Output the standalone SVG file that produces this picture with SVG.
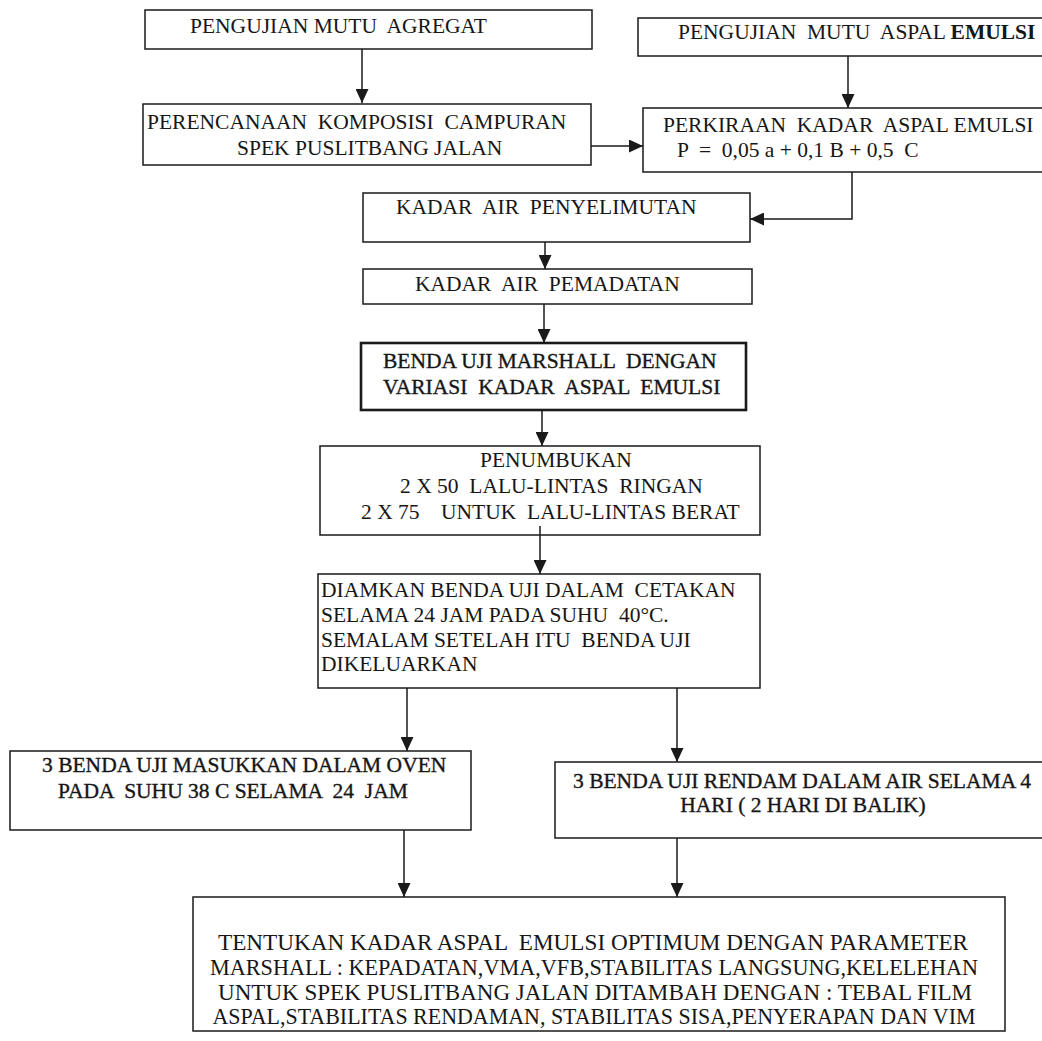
<svg xmlns="http://www.w3.org/2000/svg" width="1042" height="1041" viewBox="0 0 1042 1041">
<defs>
<marker id="ah" markerUnits="userSpaceOnUse" markerWidth="14" markerHeight="13" refX="14" refY="6.5" orient="auto">
<path d="M0,0 L14,6.5 L0,13 z" fill="#1a1a1a"/>
</marker>
<style>
.box{fill:none;stroke:#1a1a1a;stroke-width:1.5}
.thick{stroke-width:2.6}
.con{fill:none;stroke:#1a1a1a;stroke-width:1.5;marker-end:url(#ah)}
text{font-family:"Liberation Serif","Times New Roman",serif;font-size:21.5px;fill:#161616;white-space:pre}
.b{font-weight:bold}
.dk{stroke:#161616;stroke-width:0.35}
.fin{font-size:23px}
</style>
</defs>
<rect x="0" y="0" width="1042" height="1041" fill="#ffffff"/>

<g id="connectors">
<line class="con" x1="362" y1="49" x2="362" y2="103"/>
<line class="con" x1="848" y1="56" x2="848" y2="108"/>
<line class="con" x1="591" y1="146" x2="643" y2="146"/>
<polyline class="con" points="852,172 852,219 750,219"/>
<line class="con" x1="545" y1="242" x2="545" y2="269"/>
<line class="con" x1="544" y1="304" x2="544" y2="343"/>
<line class="con" x1="542" y1="410" x2="542" y2="446"/>
<line class="con" x1="540" y1="526" x2="540" y2="574"/>
<line class="con" x1="407" y1="688" x2="407" y2="751"/>
<line class="con" x1="677" y1="688" x2="677" y2="762"/>
<line class="con" x1="404" y1="830" x2="404" y2="897"/>
<line class="con" x1="677" y1="838" x2="677" y2="897"/>
</g>

<g id="n1">
<rect class="box" x="145" y="10" width="447" height="39"/>
<text x="190" y="33">PENGUJIAN MUTU  AGREGAT</text>
</g>
<g id="n2">
<rect class="box" x="638" y="18" width="420" height="38"/>
<text x="678" y="39">PENGUJIAN  MUTU  ASPAL <tspan class="b">EMULSI</tspan></text>
</g>
<g id="n3">
<rect class="box" x="143" y="104" width="448" height="61"/>
<text x="147" y="129">PERENCANAAN  KOMPOSISI  CAMPURAN</text>
<text x="237" y="155">SPEK PUSLITBANG JALAN</text>
</g>
<g id="n4">
<rect class="box" x="643" y="108" width="415" height="64"/>
<text x="663" y="132">PERKIRAAN  KADAR  ASPAL EMULSI</text>
<text x="677" y="157">P  =  0,05 a + 0,1 B + 0,5  C</text>
</g>
<g id="n5">
<rect class="box" x="363" y="193" width="387" height="49"/>
<text x="396" y="214">KADAR  AIR  PENYELIMUTAN</text>
</g>
<g id="n6">
<rect class="box" x="363" y="269" width="389" height="35"/>
<text x="415" y="291">KADAR  AIR  PEMADATAN</text>
</g>
<g id="n7">
<rect class="box thick" x="361" y="343" width="385" height="67"/>
<text class="dk" x="383" y="368">BENDA UJI MARSHALL  DENGAN</text>
<text class="dk" x="383" y="394">VARIASI  KADAR  ASPAL  EMULSI</text>
</g>
<g id="n8">
<rect class="box" x="320" y="446" width="440" height="89"/>
<text x="480" y="467">PENUMBUKAN</text>
<text x="400" y="493">2 X 50  LALU-LINTAS  RINGAN</text>
<text x="361" y="519">2 X 75    UNTUK  LALU-LINTAS BERAT</text>
</g>
<g id="n9">
<rect class="box" x="318" y="574" width="442" height="114"/>
<text x="321" y="597">DIAMKAN BENDA UJI DALAM  CETAKAN</text>
<text x="321" y="622">SELAMA 24 JAM PADA SUHU  40°C.</text>
<text x="321" y="647">SEMALAM SETELAH ITU  BENDA UJI</text>
<text x="321" y="671">DIKELUARKAN</text>
</g>
<g id="n10">
<rect class="box" x="10" y="751" width="461" height="79"/>
<text class="dk" x="42" y="772">3 BENDA UJI MASUKKAN DALAM OVEN</text>
<text class="dk" x="58" y="798">PADA  SUHU 38 C SELAMA  24  JAM</text>
</g>
<g id="n11">
<rect class="box" x="555" y="762" width="500" height="76"/>
<text class="dk" x="573" y="788">3 BENDA UJI RENDAM DALAM AIR SELAMA 4</text>
<text class="dk" x="803" y="812" text-anchor="middle">HARI ( 2 HARI DI BALIK)</text>
</g>
<g id="n12">
<rect class="box" x="193" y="897" width="812" height="134"/>
<text class="fin" x="593" y="950" text-anchor="middle" textLength="750" lengthAdjust="spacingAndGlyphs">TENTUKAN KADAR ASPAL  EMULSI OPTIMUM DENGAN PARAMETER</text>
<text class="fin" x="594" y="975" text-anchor="middle" textLength="768" lengthAdjust="spacingAndGlyphs">MARSHALL : KEPADATAN,VMA,VFB,STABILITAS LANGSUNG,KELELEHAN</text>
<text class="fin" x="595" y="1000" text-anchor="middle" textLength="754" lengthAdjust="spacingAndGlyphs">UNTUK SPEK PUSLITBANG JALAN DITAMBAH DENGAN : TEBAL FILM</text>
<text class="fin" x="594" y="1024" text-anchor="middle" textLength="763" lengthAdjust="spacingAndGlyphs">ASPAL,STABILITAS RENDAMAN, STABILITAS SISA,PENYERAPAN DAN VIM</text>
</g>
</svg>
